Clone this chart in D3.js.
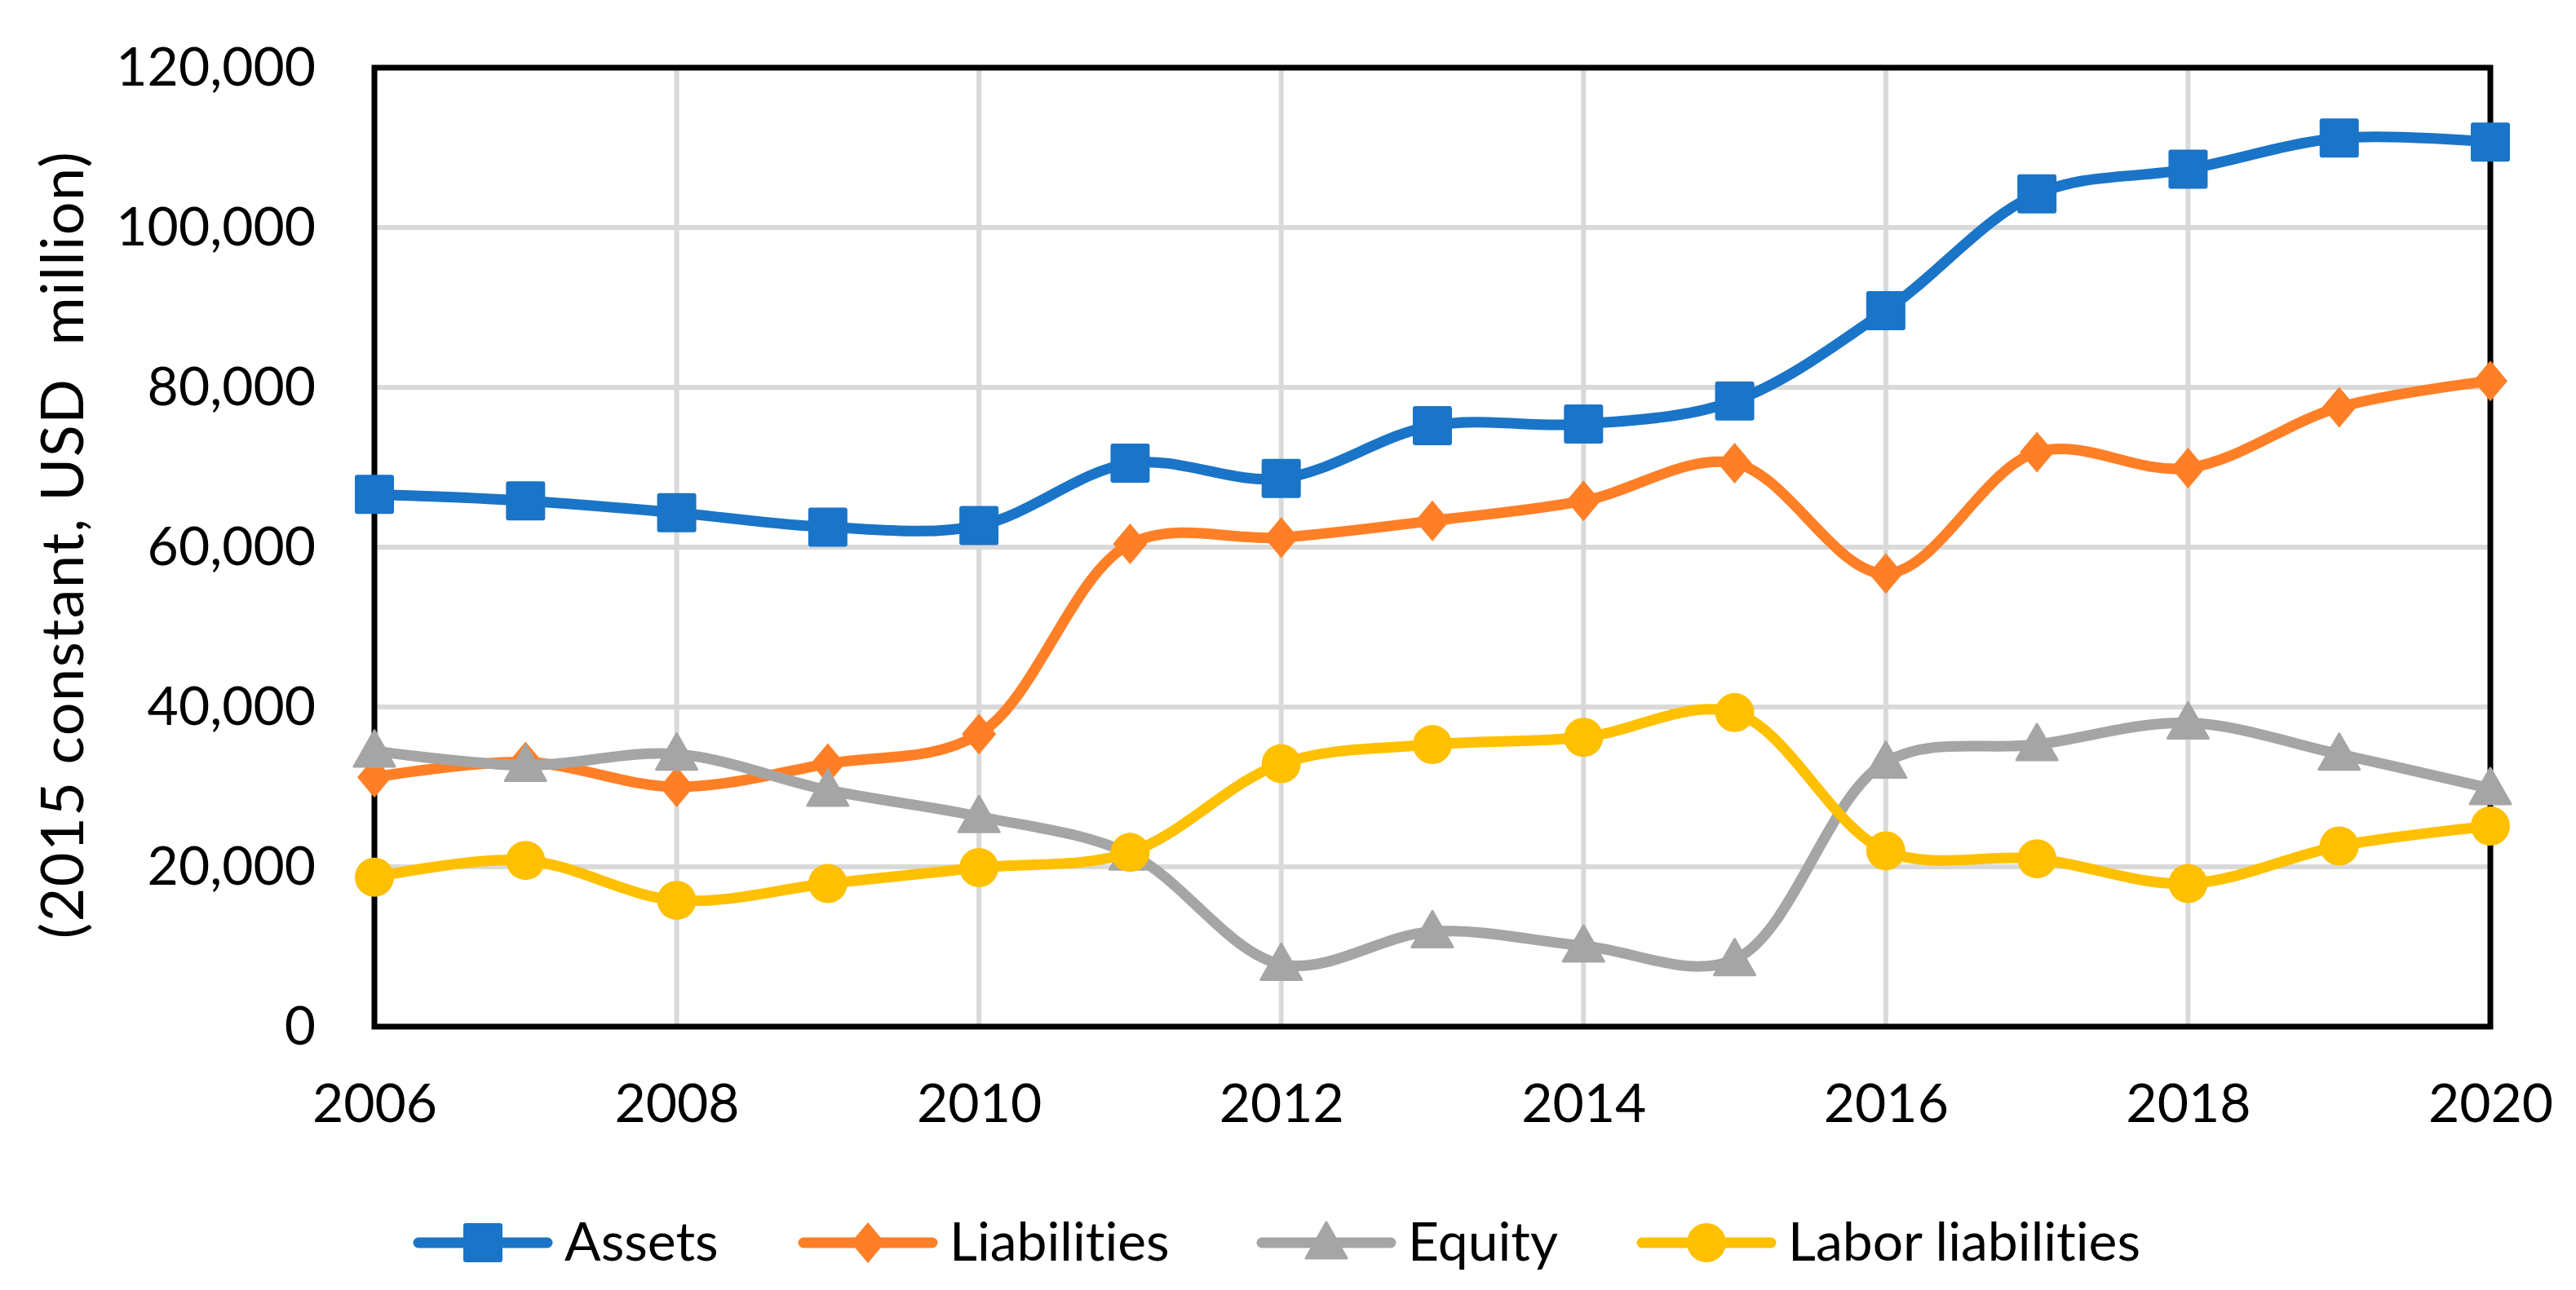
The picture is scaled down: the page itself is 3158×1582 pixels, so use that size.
<!DOCTYPE html>
<html>
<head>
<meta charset="utf-8">
<script src="https://cdn.jsdelivr.net/npm/d3@7"></script>
<style>
  body { margin: 0; background: #fff; }
  text { font-family: Lato, "Open Sans", sans-serif; fill: #000; font-variant-ligatures: none; font-feature-settings: "liga" 0, "clig" 0; }
</style>
</head>
<body>
<svg id="chart"></svg>
<script>
const WIDTH = 3158;
const HEIGHT = 1582;

// data
const years = [2006, 2007, 2008, 2009, 2010, 2011, 2012, 2013, 2014, 2015, 2016, 2017, 2018, 2019, 2020];
const assets = [66600, 65800, 64300, 62500, 62700, 70500, 68600, 75200, 75400, 78300, 89600, 104200, 107300, 111200, 110700];
const liabilities = [31200, 33100, 30000, 32900, 36600, 60400, 61200, 63300, 65800, 70500, 56700, 71900, 69900, 77500, 80800];
const equity = [34500, 32700, 34100, 29600, 26300, 21600, 7800, 11900, 10100, 8400, 33100, 35300, 38000, 34100, 29800];
const labor = [18700, 20800, 15800, 17900, 19900, 21800, 32900, 35300, 36200, 39300, 22000, 21000, 17900, 22600, 25100];
const yTicks = [0, 20000, 40000, 60000, 80000, 100000, 120000];
const xTicks = [2006, 2008, 2010, 2012, 2014, 2016, 2018, 2020];

const series = [
  { name: 'Assets', values: assets, color: '#1A74C8', marker: 'square' },
  { name: 'Liabilities', values: liabilities, color: '#FF7F27', marker: 'diamond' },
  { name: 'Equity', values: equity, color: '#A5A5A5', marker: 'triangle' },
  { name: 'Labor liabilities', values: labor, color: '#FFC000', marker: 'circle' }
];

const margin = { left: 459, right: WIDTH - 3053, top: 83, bottom: HEIGHT - 1259 };

const svg = d3.select('#chart')
    .attr('width', WIDTH)
    .attr('height', HEIGHT);

const x = d3.scaleLinear()
    .domain([2006, 2020])
    .range([margin.left, WIDTH - margin.right]);

const y = d3.scaleLinear()
    .domain([0, 120000])
    .range([HEIGHT - margin.bottom, margin.top]);

// gridlines
svg.append('g').selectAll('line.h')
    .data(yTicks)
    .enter().append('line')
    .attr('x1', x(2006)).attr('x2', x(2020))
    .attr('y1', d => y(d)).attr('y2', d => y(d))
    .attr('stroke', '#D9D9D9').attr('stroke-width', 6);

svg.append('g').selectAll('line.v')
    .data(xTicks)
    .enter().append('line')
    .attr('x1', d => x(d)).attr('x2', d => x(d))
    .attr('y1', y(0)).attr('y2', y(120000))
    .attr('stroke', '#D9D9D9').attr('stroke-width', 6);

// plot frame
svg.append('rect')
    .attr('x', x(2006)).attr('y', y(120000))
    .attr('width', x(2020) - x(2006))
    .attr('height', y(0) - y(120000))
    .attr('fill', 'none')
    .attr('stroke', '#000')
    .attr('stroke-width', 7);

// axes (labels only)
const leftAxis = d3.axisLeft(y).tickValues(yTicks).tickFormat(d3.format(',')).tickSize(0).tickPadding(72);
svg.append('g').attr('id', 'left-axis')
    .attr('transform', 'translate(' + x(2006) + ',0)')
    .call(leftAxis)
    .call(g => g.select('.domain').remove())
    .selectAll('text').style('font-size', '66px').attr('fill', '#000');

const bottomAxis = d3.axisBottom(x).tickValues(xTicks).tickFormat(d3.format('d')).tickSize(0).tickPadding(70);
svg.append('g').attr('id', 'bottom-axis')
    .attr('transform', 'translate(0,' + y(0) + ')')
    .call(bottomAxis)
    .call(g => g.select('.domain').remove())
    .selectAll('text').style('font-size', '66px').attr('fill', '#000');

// y axis title
svg.append('text')
    .attr('transform', 'translate(102,668) rotate(-90)')
    .attr('text-anchor', 'middle')
    .style('font-size', '72px')
    .style('letter-spacing', '1.5px')
    .text('(2015 constant, USD\u00A0 million)');

// marker shapes
function drawMarker(g, type, color) {
  if (type === 'square') {
    g.append('rect').attr('x', -24).attr('y', -24).attr('width', 48).attr('height', 48)
      .attr('rx', 3).attr('fill', color);
  } else if (type === 'diamond') {
    g.append('path').attr('d', 'M0,-25L21,0L0,25L-21,0Z').attr('fill', color);
  } else if (type === 'triangle') {
    g.append('path').attr('d', 'M0,-25L25,19L-25,19Z').attr('fill', color)
      .attr('stroke', color).attr('stroke-width', 3).attr('stroke-linejoin', 'round');
  } else {
    g.append('circle').attr('r', 24).attr('fill', color);
  }
}

const line = d3.line()
    .x((d, i) => x(years[i]))
    .y(d => y(d))
    .curve(d3.curveCatmullRom.alpha(0.5));

series.forEach(function(s) {
  const g = svg.append('g');
  g.append('path')
    .datum(s.values)
    .attr('d', line)
    .attr('fill', 'none')
    .attr('stroke', s.color)
    .attr('stroke-width', 13)
    .attr('stroke-linecap', 'round')
    .attr('stroke-linejoin', 'round');
  g.selectAll('g.pt')
    .data(s.values)
    .enter().append('g')
    .attr('transform', (d, i) => 'translate(' + x(years[i]) + ',' + y(d) + ')')
    .each(function() { drawMarker(d3.select(this), s.marker, s.color); });
});

// legend
const legendX = [507, 979, 1541, 2007];
const legendY = 1524;
series.forEach(function(s, i) {
  const g = svg.append('g').attr('transform', 'translate(' + legendX[i] + ',' + legendY + ')');
  g.append('line')
    .attr('x1', 6).attr('x2', 164)
    .attr('stroke', s.color).attr('stroke-width', 13).attr('stroke-linecap', 'round');
  const m = g.append('g').attr('transform', 'translate(85,0)');
  drawMarker(m, s.marker, s.color);
  g.append('text')
    .attr('x', 185).attr('y', 22)
    .style('font-size', '66px')
    .text(s.name);
});
</script>
</body>
</html>
